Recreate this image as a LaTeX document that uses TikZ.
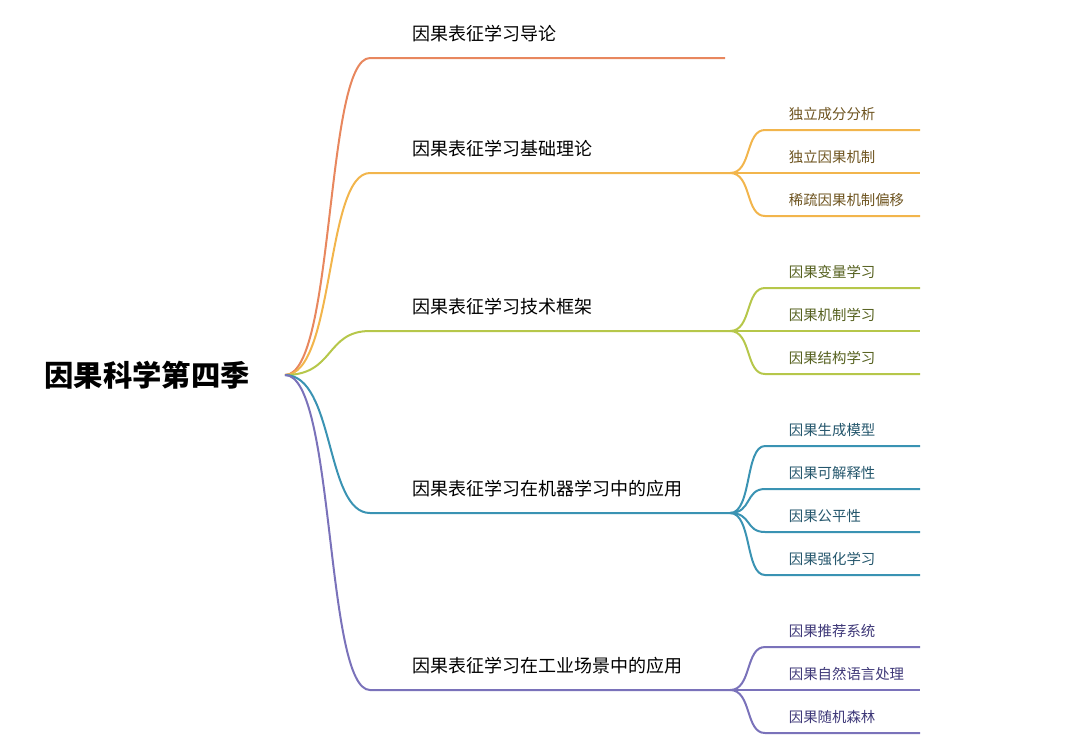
\documentclass[tikz,border=0pt]{standalone}
\usepackage{fontspec}
\setmainfont{Noto Sans CJK SC}
\usetikzlibrary{positioning}
\definecolor{corange}{HTML}{E8875E}
\definecolor{cyellow}{HTML}{F2B54C}
\definecolor{cgreen}{HTML}{B6C74A}
\definecolor{cblue}{HTML}{3A93B3}
\definecolor{cpurple}{HTML}{7A72BA}
\definecolor{tyellow}{HTML}{6E5420}
\definecolor{tgreen}{HTML}{55601E}
\definecolor{tblue}{HTML}{24566C}
\definecolor{tpurple}{HTML}{3E3878}
\begin{document}
\begin{tikzpicture}[x=0.75pt,y=-0.75pt]
		\tikzset{root/.style = {font=\fontsize{22}{26}\selectfont\bfseries}}
		\tikzset{topic/.style = {anchor=south west,inner sep=2pt,font=\fontsize{13.5}{16}\selectfont}}
		\tikzset{leaf/.style = {anchor=south west,inner sep=2pt,font=\fontsize{10.8}{13}\selectfont}}
		\tikzset{branch/.style = {line width=1.5pt}}
		\useasboundingbox (0,0) rectangle (1080,747);
		% root
		\node[root] (r) at (147,375) {因果科学第四季};
		\coordinate (o) at (285,375);
		% topics
		\foreach \n/\y/\x/\c/\t in {1/58/725/corange/因果表征学习导论,2/173/730/cyellow/因果表征学习基础理论,3/331/730/cgreen/因果表征学习技术框架,4/513/730/cblue/因果表征学习在机器学习中的应用,5/690/730/cpurple/因果表征学习在工业场景中的应用}{
			\coordinate (s\n) at (370,\y);
			\coordinate (e\n) at (\x,\y);
			\node[topic] (t\n) at (410,\y-13) {\t};
			\draw[branch,\c] (o) .. controls (335,375) and (325,\y) .. (s\n) -- (e\n);
		}
		% leaves
		\foreach \p/\py/\y/\c/\tc/\t in {2/173/130/cyellow/tyellow/独立成分分析,2/173/173/cyellow/tyellow/独立因果机制,2/173/216/cyellow/tyellow/稀疏因果机制偏移,
			3/331/288/cgreen/tgreen/因果变量学习,3/331/331/cgreen/tgreen/因果机制学习,3/331/374/cgreen/tgreen/因果结构学习,
			4/513/446/cblue/tblue/因果生成模型,4/513/489/cblue/tblue/因果可解释性,4/513/532/cblue/tblue/因果公平性,4/513/575/cblue/tblue/因果强化学习,
			5/690/647/cpurple/tpurple/因果推荐系统,5/690/690/cpurple/tpurple/因果自然语言处理,5/690/733/cpurple/tpurple/因果随机森林}{
			\coordinate (a) at (765,\y);
			\coordinate (b) at (920,\y);
			\node[leaf,text=\tc] (l) at (786,\y-6) {\t};
			\draw[branch,\c] (e\p) .. controls (752,\py) and (745,\y) .. (a) -- (b);
		}
\end{tikzpicture}
\end{document}
